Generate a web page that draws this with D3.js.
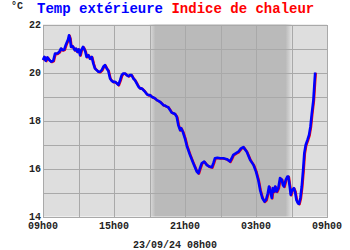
<!DOCTYPE html>
<html>
<head>
<meta charset="utf-8">
<script src="https://cdn.jsdelivr.net/npm/d3@7"></script>
<style>
  html, body { margin: 0; padding: 0; background: #ffffff; }
  text { font-family: "Liberation Mono", "DejaVu Sans Mono", monospace; font-weight: bold; }
</style>
</head>
<body>
<div id="chart"></div>
<script>
// readings, 22/09/24 09h00 -> 23/09/24 08h00
const times = [
	"09:00","09:07","09:14","09:22","09:32","09:42","09:52","10:01","10:13","10:23",
	"10:31","10:40","10:48","10:55","11:00","11:07","11:12","11:17","11:22","11:29",
	"11:34","11:41","11:47","11:54","12:01","12:08","12:14","12:23","12:28","12:35",
	"12:41","12:50","12:58","13:07","13:15","13:23","13:32","13:41","13:49","13:58",
	"14:06","14:14","14:23","14:31","14:40","14:48","14:56","15:05","15:14","15:22",
	"15:31","15:39","15:47","15:56","16:04","16:13","16:21","16:29","16:38","16:46",
	"16:55","17:04","17:12","17:20","17:29","17:37","17:46","17:54","18:02","18:11",
	"18:19","18:28","18:37","18:45","18:53","19:02","19:10","19:19","19:27","19:35",
	"19:44","19:52","20:01","20:09","20:18","20:26","20:35","20:40","20:49","21:00",
	"21:09","21:25","21:42","22:00","22:08","22:16","22:25","22:37","22:50","23:03",
	"23:16","23:24","23:32","23:44","23:58","00:14","00:32","00:48","00:57","01:05",
	"01:19","01:31","01:44","01:56","02:13","02:30","02:47","03:00","03:12","03:21",
	"03:32","03:43","03:51","04:00","04:06","04:13","04:20","04:25","04:32","04:37",
	"04:45","04:53","05:02","05:11","05:16","05:22","05:31","05:39","05:44","05:51",
	"05:56","06:04","06:12","06:18","06:25","06:32","06:38","06:45","06:52","06:59",
	"07:05","07:12","07:21","07:29","07:36","07:43","07:51","07:56","08:00"
];
const temperature = [
	20.52,20.65,20.49,20.63,20.52,20.45,20.49,20.79,20.79,20.86,
	21.00,20.93,20.96,21.14,21.24,21.37,21.55,21.42,21.07,21.10,
	21.04,20.93,21.00,20.86,20.96,20.72,20.93,21.07,21.00,20.86,
	20.65,20.72,20.58,20.65,20.38,20.17,20.10,20.03,20.03,20.10,
	20.24,20.31,20.17,20.07,19.75,19.66,19.61,19.61,19.55,19.48,
	19.68,19.89,19.96,19.96,19.89,19.85,19.89,19.89,19.75,19.68,
	19.55,19.41,19.34,19.34,19.27,19.20,19.10,19.06,19.06,18.99,
	18.96,18.92,18.85,18.82,18.78,18.71,18.64,18.62,18.58,18.55,
	18.44,18.33,18.30,18.27,18.16,17.81,17.60,17.68,17.53,17.25,
	16.95,16.57,16.22,15.87,15.80,16.01,16.22,16.29,16.15,16.08,
	16.05,16.22,16.43,16.45,16.43,16.43,16.39,16.29,16.43,16.57,
	16.64,16.70,16.84,16.89,16.70,16.36,16.15,15.87,15.50,15.10,
	14.77,14.62,14.69,14.97,15.25,15.04,14.77,15.18,15.04,15.25,
	15.04,15.18,15.60,15.53,15.32,15.25,15.53,15.66,15.66,15.25,
	14.90,15.11,15.18,15.04,14.69,14.56,14.53,14.77,15.25,15.94,
	16.64,16.98,17.19,17.40,17.74,18.30,18.85,19.50,20.00
];
// heat index reads the same as the temperature at these values
const heatIndex = temperature.slice();

const xTickLabels = ["09h00", "15h00", "21h00", "03h00", "09h00"];
const yTickLabels = [14, 16, 18, 20, 22];
// night shading: dusk fade, dawn fade
const dusk = ["18:00", "18:30"];
const dawn = ["05:30", "06:00"];

const width = 350, height = 250;
const margin = { top: 24.5, right: 23, bottom: 33.5, left: 43 };

const parseTime = d3.timeParse("%d/%m/%Y %H:%M");
const day1 = "22/09/2024 ", day2 = "23/09/2024 ";
// times before 09h00 belong to the next day
const toDate = t => parseTime((t < "09:00" ? day2 : day1) + t);
const start = toDate("09:00");

const svg = d3.select("#chart").append("svg")
	.attr("width", width)
	.attr("height", height);

const x = d3.scaleTime()
	.domain([start, d3.timeHour.offset(start, 24)])
	.range([margin.left, width - margin.right]);
const y = d3.scaleLinear()
	.domain([14, 22])
	.range([height - margin.bottom, margin.top]);

// background and night band
const defs = svg.append("defs");
const grad = defs.append("linearGradient")
	.attr("id", "night")
	.attr("gradientUnits", "userSpaceOnUse")
	.attr("x1", x(toDate(dusk[0]))).attr("x2", x(toDate(dawn[1])))
	.attr("y1", 0).attr("y2", 0);
const span = x(toDate(dawn[1])) - x(toDate(dusk[0]));
const stop = t => (x(toDate(t)) - x(toDate(dusk[0]))) / span;
grad.append("stop").attr("offset", 0).attr("stop-color", "#dedede");
grad.append("stop").attr("offset", stop(dusk[1])).attr("stop-color", "#bababa");
grad.append("stop").attr("offset", stop(dawn[0])).attr("stop-color", "#bababa");
grad.append("stop").attr("offset", 1).attr("stop-color", "#dedede");

svg.append("rect")
	.attr("x", x.range()[0]).attr("y", y.range()[1])
	.attr("width", x.range()[1] - x.range()[0])
	.attr("height", y.range()[0] - y.range()[1])
	.style("fill", "#dedede");
svg.append("rect")
	.attr("x", x(toDate(dusk[0]))).attr("y", y.range()[1])
	.attr("width", span)
	.attr("height", y.range()[0] - y.range()[1])
	.style("fill", "url(#night)");

// grid, every 3 hours and every degree
const grid = svg.append("g")
	.attr("stroke", "#a9a9a9")
	.attr("stroke-width", 1)
	.attr("shape-rendering", "crispEdges");
grid.selectAll(".vx")
	.data(d3.range(0, 25, 3).map(h => d3.timeHour.offset(start, h)))
	.enter().append("line")
	.attr("x1", d => Math.round(x(d)) + 0.5).attr("x2", d => Math.round(x(d)) + 0.5)
	.attr("y1", y.range()[1]).attr("y2", y.range()[0]);
grid.selectAll(".hy")
	.data(d3.range(14, 23, 1))
	.enter().append("line")
	.attr("x1", x.range()[0]).attr("x2", x.range()[1] + 1)
	.attr("y1", d => Math.round(y(d)) + 0.5).attr("y2", d => Math.round(y(d)) + 0.5);

// series
const data = times.map((t, i) => ({ date: toDate(t), temp: temperature[i], heat: heatIndex[i] }));
const heatLine = d3.line().x(d => x(d.date)).y(d => y(d.heat));
const tempLine = d3.line().x(d => x(d.date)).y(d => y(d.temp));

svg.append("path")
	.datum(data)
	.attr("d", heatLine)
	.attr("transform", "translate(0.6,0.4)")
	.style("fill", "none")
	.style("stroke", "#ff0000")
	.style("stroke-width", 2.4)
	.style("stroke-linejoin", "round");
svg.append("path")
	.datum(data)
	.attr("d", tempLine)
	.style("fill", "none")
	.style("stroke", "#0000ff")
	.style("stroke-width", 2.6)
	.style("stroke-linejoin", "round");

// axis labels
const xTicks = d3.range(0, 25, 6).map(h => d3.timeHour.offset(start, h));
svg.append("g").selectAll("text")
	.data(xTicks)
	.enter().append("text")
	.attr("x", d => x(d))
	.attr("y", height - margin.bottom + 12)
	.attr("text-anchor", "middle")
	.style("font-size", "10px")
	.style("fill", "#222")
	.text((d, i) => xTickLabels[i]);

svg.append("g").selectAll("text")
	.data(yTickLabels)
	.enter().append("text")
	.attr("x", margin.left - 2)
	.attr("y", d => y(d) + 3.8)
	.attr("text-anchor", "end")
	.style("font-size", "10px")
	.style("fill", "#222")
	.text(d => d);

svg.append("text")
	.attr("x", 11).attr("y", 9)
	.style("font-size", "10px")
	.style("fill", "#222")
	.text("°C");

const title = svg.append("text")
	.attr("x", 37).attr("y", 13)
	.style("font-size", "14px");
title.append("tspan").style("fill", "#0000ff").text("Temp extérieure ");
title.append("tspan").style("fill", "#ff0000").text("Indice de chaleur");

svg.append("text")
	.attr("x", 175).attr("y", 248)
	.attr("text-anchor", "middle")
	.style("font-size", "10px")
	.style("fill", "#222")
	.text("23/09/24 08h00");
</script>
</body>
</html>
